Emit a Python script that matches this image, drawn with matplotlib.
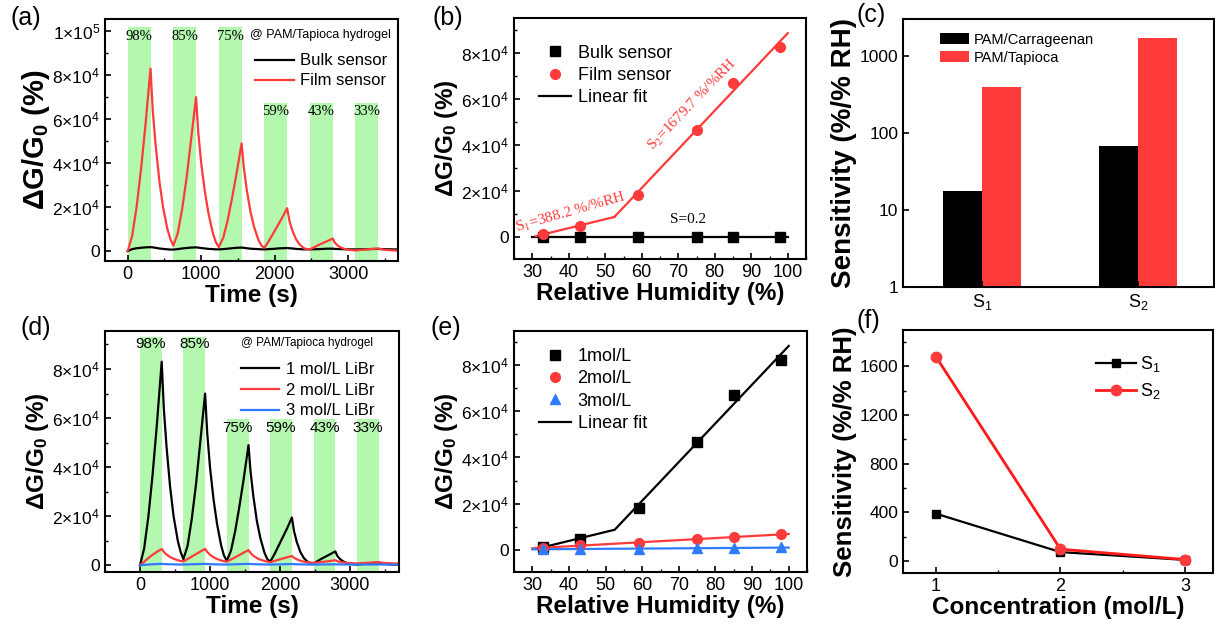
import matplotlib
matplotlib.use("Agg")
import matplotlib.pyplot as plt
import numpy as np
from matplotlib.ticker import MultipleLocator, NullLocator

plt.rcParams.update({
    "font.family": ["Liberation Sans", "DejaVu Sans"],
    "mathtext.fontset": "custom",
    "mathtext.rm": "Liberation Sans",
    "mathtext.it": "Liberation Sans:italic",
    "mathtext.bf": "Liberation Sans:bold",
    "axes.linewidth": 1.5,
    "xtick.direction": "in",
    "ytick.direction": "in",
    "xtick.major.size": 4,
    "ytick.major.size": 4,
    "xtick.minor.size": 2.5,
    "ytick.minor.size": 2.5,
    "xtick.major.width": 1.2,
    "ytick.major.width": 1.2,
    "xtick.minor.width": 1.0,
    "ytick.minor.width": 1.0,
    "xtick.labelsize": 13,
    "ytick.labelsize": 12.5,
})

RED = "#ff3a3a"
GREEN = "#b4f7ae"
BLUE = "#2f7bff"

# ---- humidity cycles (a), (d) ----
time_s = [0, 60, 120, 180, 240, 310, 340, 380, 430, 480, 540, 580,
          620, 680, 740, 800, 860, 930, 960, 1000, 1050, 1100, 1160, 1200,
          1240, 1300, 1360, 1420, 1480, 1550, 1580, 1620, 1670, 1720, 1780, 1820,
          1860, 1920, 1980, 2040, 2100, 2170, 2200, 2240, 2290, 2340, 2400, 2440,
          2480, 2540, 2600, 2660, 2720, 2790, 2820, 2860, 2910, 2960, 3020, 3060,
          3100, 3160, 3220, 3280, 3340, 3410, 3440, 3480, 3530, 3580, 3640, 3700]

film_sensor = [0, 7000, 20000, 37000, 57000, 83000, 64000, 48000, 32000, 20000, 10000, 5500,
               2500, 8000, 19000, 33000, 50000, 70000, 54000, 40000, 27000, 17000, 8000, 4000,
               1800, 6000, 14000, 24000, 35000, 49000, 38000, 28000, 18000, 11000, 5000, 2500,
               1500, 4500, 8000, 11500, 15000, 19500, 14000, 9500, 5500, 3000, 1300, 900,
               800, 1800, 2800, 3700, 4600, 5700, 3800, 2500, 1500, 900, 600, 400,
               300, 500, 700, 850, 1000, 1200, 900, 700, 500, 400, 300, 250]

bulk_sensor = [0, 900, 1300, 1500, 1700, 1800, 1700, 1500, 1200, 1000, 800, 700,
               700, 900, 1200, 1400, 1600, 1700, 1600, 1400, 1200, 1000, 900, 800,
               800, 900, 1100, 1300, 1500, 1600, 1500, 1300, 1100, 1000, 900, 800,
               800, 900, 1000, 1200, 1300, 1400, 1300, 1200, 1000, 900, 800, 800,
               800, 850, 900, 1000, 1100, 1100, 1000, 950, 900, 850, 800, 800,
               750, 800, 850, 900, 950, 1000, 950, 900, 850, 800, 750, 700]

libr_2mol = [0, 1500, 3000, 4300, 5500, 6700, 5500, 4400, 3400, 2700, 2100, 1800,
             1600, 2600, 3600, 4600, 5600, 6700, 5500, 4300, 3300, 2600, 2000, 1700,
             1500, 2400, 3300, 4200, 5200, 6200, 5000, 3900, 3000, 2300, 1800, 1500,
             1300, 1800, 2300, 2800, 3300, 3800, 3100, 2500, 1900, 1500, 1200, 1100,
             1000, 1200, 1400, 1600, 1800, 2100, 1700, 1400, 1200, 1000, 900, 850,
             800, 900, 1000, 1100, 1200, 1300, 1100, 1000, 900, 850, 800, 750]

libr_3mol = [0, 200, 350, 450, 550, 600, 550, 500, 450, 400, 350, 350,
             350, 400, 450, 500, 550, 600, 550, 500, 450, 400, 380, 350,
             350, 400, 450, 500, 550, 600, 550, 500, 450, 400, 380, 350,
             350, 380, 420, 450, 500, 550, 500, 450, 420, 380, 350, 330,
             330, 350, 380, 400, 420, 450, 420, 400, 380, 350, 330, 320,
             320, 330, 340, 350, 360, 380, 360, 340, 330, 320, 300, 300]

band_start = [0, 620, 1240, 1860, 2480, 3100]
band_end = [310, 930, 1550, 2170, 2790, 3410]
band_rh = ["98%", "85%", "75%", "59%", "43%", "33%"]
band_top_a = [102000, 102000, 102000, 67500, 67500, 67500]
label_y_a = [97500, 97500, 97500, 63300, 63300, 63300]
band_top_d = [93000, 93000, 59500, 59500, 59500, 59500]
label_y_d = [90000, 90000, 55800, 55800, 55800, 55800]

yticks_a = [0, 20000, 40000, 60000, 80000, 100000]
ylabels_a = ["0", r"$2{\times}10^4$", r"$4{\times}10^4$", r"$6{\times}10^4$",
             r"$8{\times}10^4$", r"$1{\times}10^5$"]
yticks_be = [0, 20000, 40000, 60000, 80000]
ylabels_be = ylabels_a[:5]

# ---- RH response (b), (e) ----
rh = [33, 43, 59, 75, 85, 98]
bulk_points = [0, 0, 0, 0, 0, 0]
film_points = [1200, 4800, 18200, 46600, 67000, 82500]
mol2_points = [700, 1900, 3000, 4500, 5400, 6700]
mol3_points = [150, 300, 350, 700, 800, 1000]
fit_s1_x = [31, 52.5]
fit_s1_y = [300, 8650]
fit_s2_x = [52.5, 100]
fit_s2_y = [8650, 88400]
fit_bulk_x = [30, 100]
fit_bulk_y = [0, 0]
fit_2mol_x = [30, 100]
fit_2mol_y = [580, 6800]
fit_3mol_x = [30, 100]
fit_3mol_y = [150, 900]

# ---- sensitivities (c), (f) ----
sens_names = ["S$_1$", "S$_2$"]
sens_carrageenan = [17.5, 66.7]
sens_tapioca = [388.2, 1679.7]
conc = [1, 2, 3]
conc_s1 = [388.2, 72, 8]
conc_s2 = [1679.7, 96, 11]

fig = plt.figure(figsize=(12.15, 6.3), dpi=100)
W, H = 1215.0, 630.0


def add_ax(left, top, right, bottom):
    return fig.add_axes([left / W, 1 - bottom / H, (right - left) / W, (bottom - top) / H])


def bands(ax, tops):
    y0, y1 = ax.get_ylim()
    for s, e, t in zip(band_start, band_end, tops):
        ax.axvspan(s, e, ymin=0, ymax=(t - y0) / (y1 - y0), color=GREEN, lw=0, zorder=0)


ylab = r"ΔG/G$_\mathbf{0}$ (%)"
xlab_kw = dict(fontsize=17.5, fontweight="bold")


def ylab_kw(size):
    return dict(fontsize=size, fontweight="bold")


# (a)
ax = add_ax(105, 19, 398, 261)
ax.set_xlim(-310, 3680)
ax.set_ylim(-4500, 105500)
bands(ax, band_top_a)
for s, e, lab, y in zip(band_start, band_end, band_rh, label_y_a):
    ax.text((s + e) / 2, y, lab, ha="center", va="center", fontsize=10.5,
            family="Liberation Serif")
ax.plot(time_s, bulk_sensor, color="black", lw=1.6, label="Bulk sensor")
ax.plot(time_s, film_sensor, color=RED, lw=1.6, label="Film sensor")
ax.set_yticks(yticks_a, ylabels_a)
ax.yaxis.set_minor_locator(MultipleLocator(10000))
ax.xaxis.set_major_locator(MultipleLocator(1000))
ax.xaxis.set_minor_locator(MultipleLocator(500))
ax.set_xlabel("Time (s)", labelpad=1, **xlab_kw)
ax.set_ylabel(ylab, labelpad=0, **ylab_kw(21))
ax.text(0.975, 0.935, "@ PAM/Tapioca hydrogel", transform=ax.transAxes, ha="right",
        va="center", fontsize=9)
ax.legend(loc="upper left", bbox_to_anchor=(0.49, 0.885), frameon=False, fontsize=12,
          handlelength=2.3, labelspacing=0.3, handletextpad=0.4, borderaxespad=0)

# (b)
ax = add_ax(514, 18, 806, 259)
ax.set_xlim(25, 105)
ax.set_ylim(-9600, 95000)
ax.plot(fit_bulk_x, fit_bulk_y, color="black", lw=1.6, label="Linear fit", zorder=2)
ax.plot(fit_s1_x, fit_s1_y, color=RED, lw=1.6, zorder=2)
ax.plot(fit_s2_x, fit_s2_y, color=RED, lw=1.6, zorder=2)
ax.plot(rh, bulk_points, "s", color="black", ms=6.5, label="Bulk sensor", zorder=3)
ax.plot(rh, film_points, "o", color=RED, ms=7, label="Film sensor", zorder=3)
ax.text(40.6, 10600, r"S$_1$=388.2 %/%RH", color=RED, fontsize=11, rotation=16,
        family="Liberation Serif", math_fontfamily="stix", ha="center", va="center",
        rotation_mode="anchor")
ax.text(74.0, 57500, r"S$_2$=1679.7 %/%RH", color=RED, fontsize=11, rotation=46,
        family="Liberation Serif", math_fontfamily="stix", ha="center", va="center",
        rotation_mode="anchor")
ax.text(72.8, 7500, "S=0.2", color="black", fontsize=11, family="Liberation Serif",
        ha="center", va="center")
ax.set_yticks(yticks_be, ylabels_be)
ax.yaxis.set_minor_locator(MultipleLocator(10000))
ax.xaxis.set_major_locator(MultipleLocator(10))
ax.xaxis.set_minor_locator(MultipleLocator(5))
ax.set_xlabel("Relative Humidity (%)", labelpad=1, **xlab_kw)
ax.set_ylabel(ylab, labelpad=1, **ylab_kw(17.5))
h, l = ax.get_legend_handles_labels()
ax.legend([h[1], h[2], h[0]], [l[1], l[2], l[0]], loc="upper left",
          bbox_to_anchor=(0.06, 0.92), frameon=False, fontsize=13, handlelength=1.8,
          labelspacing=0.3, handletextpad=0.35, borderaxespad=0)

# (c)
ax = add_ax(903, 19, 1214, 287)
xc = np.arange(1, len(sens_names) + 1)
bw = 0.25
ax.bar(xc - bw / 2, sens_carrageenan, bw, color="black", label="PAM/Carrageenan")
ax.bar(xc + bw / 2, sens_tapioca, bw, color=RED, label="PAM/Tapioca")
ax.set_yscale("log")
ax.set_ylim(1, 3000)
ax.set_xlim(0.49, 2.49)
ax.set_yticks([1, 10, 100, 1000], ["1", "10", "100", "1000"])
ax.yaxis.set_minor_locator(NullLocator())
ax.set_xticks(xc, sens_names)
ax.set_ylabel("Sensitivity (%/% RH)", labelpad=2, **ylab_kw(20))
ax.legend(loc="upper left", bbox_to_anchor=(0.1, 0.97), frameon=False, fontsize=10.5,
          handlelength=2.0, handleheight=0.8, labelspacing=0.25, handletextpad=0.3,
          borderaxespad=0)

# (d)
ax = add_ax(105, 331, 399, 572)
ax.set_xlim(-500, 3700)
ax.set_ylim(-2700, 95500)
bands(ax, band_top_d)
for s, e, lab, y in zip(band_start, band_end, band_rh, label_y_d):
    ax.text((s + e) / 2, y, lab, ha="center", va="center", fontsize=11)
ax.plot(time_s, film_sensor, color="black", lw=1.6, label="1 mol/L LiBr")
ax.plot(time_s, libr_2mol, color=RED, lw=1.6, label="2 mol/L LiBr")
ax.plot(time_s, libr_3mol, color=BLUE, lw=1.6, label="3 mol/L LiBr")
ax.set_yticks(yticks_be, ylabels_be)
ax.yaxis.set_minor_locator(MultipleLocator(10000))
ax.xaxis.set_major_locator(MultipleLocator(1000))
ax.xaxis.set_minor_locator(MultipleLocator(500))
ax.set_xlabel("Time (s)", labelpad=1, **xlab_kw)
ax.set_ylabel(ylab, labelpad=1, **ylab_kw(17.5))
ax.text(0.91, 0.95, "@ PAM/Tapioca hydrogel", transform=ax.transAxes, ha="right",
        va="center", fontsize=8.5)
ax.legend(loc="upper left", bbox_to_anchor=(0.44, 0.9), frameon=False, fontsize=12,
          handlelength=2.3, labelspacing=0.35, handletextpad=0.4, borderaxespad=0)

# (e)
ax = add_ax(514, 331, 807, 572)
ax.set_xlim(25, 105)
ax.set_ylim(-9700, 94900)
ax.plot(fit_s1_x + fit_s2_x[1:], fit_s1_y + fit_s2_y[1:], color="black", lw=1.6,
        label="Linear fit", zorder=2)
ax.plot(fit_2mol_x, fit_2mol_y, color=RED, lw=1.6, zorder=2)
ax.plot(fit_3mol_x, fit_3mol_y, color=BLUE, lw=1.6, zorder=2)
ax.plot(rh, film_points, "s", color="black", ms=6.5, label="1mol/L", zorder=3)
ax.plot(rh, mol2_points, "o", color=RED, ms=7, label="2mol/L", zorder=3)
ax.plot(rh, mol3_points, "^", color=BLUE, ms=7, label="3mol/L", zorder=3)
ax.set_yticks(yticks_be, ylabels_be)
ax.yaxis.set_minor_locator(MultipleLocator(10000))
ax.xaxis.set_major_locator(MultipleLocator(10))
ax.xaxis.set_minor_locator(MultipleLocator(5))
ax.set_xlabel("Relative Humidity (%)", labelpad=1, **xlab_kw)
ax.set_ylabel(ylab, labelpad=1, **ylab_kw(17.5))
h, l = ax.get_legend_handles_labels()
ax.legend(h[1:] + h[:1], l[1:] + l[:1], loc="upper left", bbox_to_anchor=(0.06, 0.96),
          frameon=False, fontsize=13, handlelength=1.8, labelspacing=0.3,
          handletextpad=0.35, borderaxespad=0)

# (f)
ax = add_ax(903, 330, 1213, 573)
ax.plot(conc, conc_s1, "-s", color="black", lw=1.6, ms=6, label="S$_1$")
ax.plot(conc, conc_s2, "-o", color="#ff1a1a", mfc=RED, mec=RED, lw=2, ms=7.5,
        label="S$_2$")
ax.set_xlim(0.735, 3.225)
ax.set_ylim(-100, 1900)
ax.set_xticks(conc)
ax.xaxis.set_minor_locator(MultipleLocator(0.5))
ax.set_yticks([0, 400, 800, 1200, 1600])
ax.yaxis.set_minor_locator(MultipleLocator(200))
ax.set_xlabel("Concentration (mol/L)", labelpad=1, **xlab_kw)
ax.set_ylabel("Sensitivity (%/% RH)", labelpad=2, **ylab_kw(18.5))
ax.legend(loc="upper left", bbox_to_anchor=(0.6, 0.93), frameon=False, fontsize=13,
          handlelength=2.2, labelspacing=0.4, handletextpad=0.2, borderaxespad=0)

# panel letters
for letter, px, py in [("(a)", 10, 6), ("(b)", 432, 6), ("(c)", 857, 3),
                       ("(d)", 20, 316), ("(e)", 430, 316), ("(f)", 857, 309)]:
    fig.text(px / W, 1 - py / H, letter, fontsize=18, ha="left", va="top")

fig.savefig("out.png", dpi=100)
